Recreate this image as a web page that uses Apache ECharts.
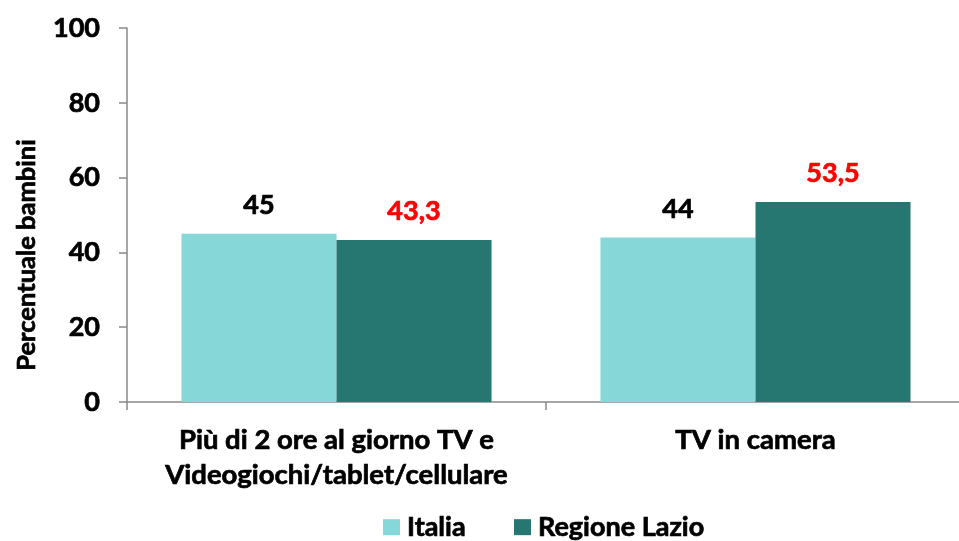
<!DOCTYPE html>
<html>
<head>
<meta charset="utf-8">
<script src="https://cdn.jsdelivr.net/npm/echarts@6/dist/echarts.min.js"></script>
<style>html,body{margin:0;padding:0;background:#fff}#c{width:959px;height:541px}</style>
</head>
<body>
<div id="c"></div>
<script>
const categories = ['Più di 2 ore al giorno TV e\nVideogiochi/tablet/cellulare', 'TV in camera'];
const seriesNames = ['Italia', 'Regione Lazio'];
const italia = [45, 44];
const lazio = [43.3, 53.5];
const yTicks = [0, 20, 40, 60, 80, 100];

const FONT = 'Lato';
const chart = echarts.init(document.getElementById('c'));
const fmt = v => String(v).replace('.', ',');
const heavy = c => ({textBorderColor: c, textBorderWidth: 0.7});
chart.setOption({
  animation: false,
  textStyle: {fontFamily: FONT},
  grid: {left: 127, top: 28, width: 838, height: 374, containLabel: false, outerBoundsMode: 'none'},
  legend: {
    data: seriesNames,
    bottom: -5, left: 378,
    itemWidth: 17, itemHeight: 16, itemGap: 48,
    icon: 'rect',
    textStyle: Object.assign({fontFamily: FONT, fontWeight: 'bold', fontSize: 27, color: '#000', padding: [0, 0, 0, 2]}, heavy('#000'))
  },
  xAxis: {
    type: 'category',
    data: categories,
    axisLine: {lineStyle: {color: '#898989', width: 1.5}},
    axisTick: {show: true, length: 8, lineStyle: {color: '#898989', width: 1.5}},
    axisLabel: Object.assign({fontFamily: FONT, fontWeight: 'bold', fontSize: 27.5, color: '#000', lineHeight: 35, margin: 21, interval: 0}, heavy('#000'))
  },
  yAxis: {
    type: 'value', min: 0, max: 100, interval: 20,
    splitLine: {show: false},
    axisLine: {show: true, lineStyle: {color: '#898989', width: 1.5}},
    axisTick: {show: true, length: 8, lineStyle: {color: '#898989', width: 1.5}},
    axisLabel: Object.assign({fontFamily: FONT, fontWeight: 'bold', fontSize: 27, color: '#000', margin: 27,
      formatter: v => yTicks.includes(v) ? String(v) : ''}, heavy('#000'))
  },
  graphic: [{
    type: 'text', x: 27, y: 255, rotation: Math.PI / 2,
    style: {text: 'Percentuale bambini', fontFamily: FONT, fontWeight: 'bold', fontSize: 25.5, fill: '#000', stroke: '#000', lineWidth: 0.7, align: 'center', verticalAlign: 'middle'}
  }],
  series: [
    {
      name: seriesNames[0], type: 'bar', data: italia, barGap: '0%', barCategoryGap: '26%',
      itemStyle: {color: '#85D8D7'},
      label: Object.assign({show: true, position: 'top', distance: 15, fontFamily: FONT, fontWeight: 'bold', fontSize: 27, color: '#000', formatter: p => fmt(p.value)}, heavy('#000'))
    },
    {
      name: seriesNames[1], type: 'bar', data: lazio, barGap: '0%', barCategoryGap: '26%',
      itemStyle: {color: '#267672'},
      label: Object.assign({show: true, position: 'top', distance: 15, fontFamily: FONT, fontWeight: 'bold', fontSize: 27, color: '#FF0000', formatter: p => fmt(p.value)}, heavy('#FF0000'))
    }
  ]
});
</script>
</body>
</html>
